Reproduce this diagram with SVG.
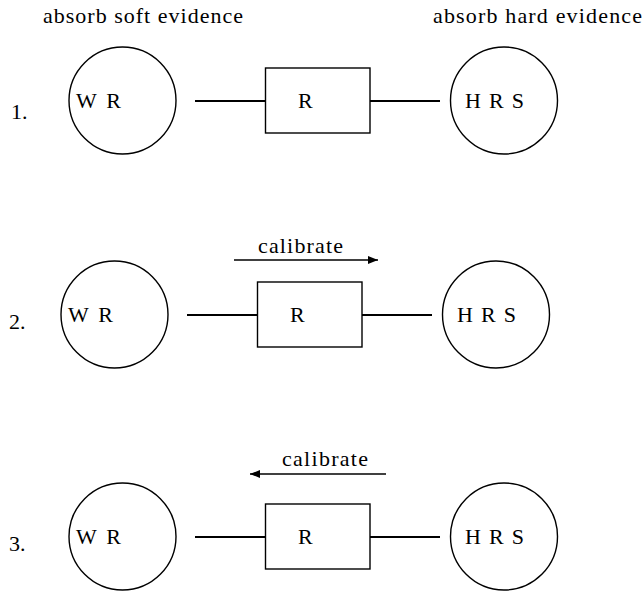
<svg xmlns="http://www.w3.org/2000/svg" width="643" height="591" viewBox="0 0 643 591" font-family="'Liberation Serif', 'DejaVu Serif', serif" font-size="22">
<defs>
<style>
text{font-family:'Liberation Serif','DejaVu Serif',serif;font-size:22px;fill:#000}
.n{fill:#fff;stroke:#000;stroke-width:1.4}
.c{stroke:#000;stroke-width:1.8;fill:none}
.a{stroke:#000;stroke-width:1.4;fill:none}
</style>
<marker id="ah" viewBox="0 0 10 8" refX="10" refY="4" markerWidth="10" markerHeight="8" markerUnits="userSpaceOnUse" orient="auto">
<path d="M0,0 L10,4 L0,8 z" fill="#000"/>
</marker>
</defs>
<rect width="643" height="591" fill="#fff"/>
<text x="43" y="23" textLength="200" lengthAdjust="spacing">absorb soft evidence</text>
<text x="433" y="23" textLength="209" lengthAdjust="spacing">absorb hard evidence</text>
<text x="11" y="119">1.</text>
<text x="9" y="329">2.</text>
<text x="9" y="551">3.</text>
<g id="connectors">
<line class="c" x1="195" y1="101" x2="265.5" y2="101"/>
<line class="c" x1="370" y1="101" x2="440" y2="101"/>
<line class="c" x1="187" y1="315" x2="257.5" y2="315"/>
<line class="c" x1="362" y1="315" x2="432" y2="315"/>
<line class="c" x1="195" y1="537" x2="265.5" y2="537"/>
<line class="c" x1="370" y1="537" x2="440" y2="537"/>
<line class="a" x1="234" y1="260" x2="378" y2="260" marker-end="url(#ah)"/>
<text x="258" y="253" textLength="85" lengthAdjust="spacing">calibrate</text>
<line class="a" x1="386" y1="474" x2="250" y2="474" marker-end="url(#ah)"/>
<text x="282" y="466" textLength="86" lengthAdjust="spacing">calibrate</text>
</g>
<g id="r1-wr"><circle class="n" cx="122.5" cy="100.5" r="53.5"/><text x="76" y="108" textLength="45" lengthAdjust="spacing">W R</text></g>
<g id="r1-r"><rect class="n" x="265.5" y="68" width="104.5" height="65"/><text x="298" y="108">R</text></g>
<g id="r1-hrs"><circle class="n" cx="504" cy="100.5" r="53.5"/><text x="465" y="108" textLength="59" lengthAdjust="spacing">H R S</text></g>
<g id="r2-wr"><circle class="n" cx="114.5" cy="314.5" r="53.5"/><text x="68" y="322" textLength="45" lengthAdjust="spacing">W R</text></g>
<g id="r2-r"><rect class="n" x="257.5" y="282" width="104.5" height="65"/><text x="290" y="322">R</text></g>
<g id="r2-hrs"><circle class="n" cx="496" cy="314.5" r="53.5"/><text x="457" y="322" textLength="59" lengthAdjust="spacing">H R S</text></g>
<g id="r3-wr"><circle class="n" cx="122.5" cy="536.5" r="53.5"/><text x="76" y="544" textLength="45" lengthAdjust="spacing">W R</text></g>
<g id="r3-r"><rect class="n" x="265.5" y="504" width="104.5" height="65"/><text x="298" y="544">R</text></g>
<g id="r3-hrs"><circle class="n" cx="504" cy="536.5" r="53.5"/><text x="465" y="544" textLength="59" lengthAdjust="spacing">H R S</text></g>
</svg>
